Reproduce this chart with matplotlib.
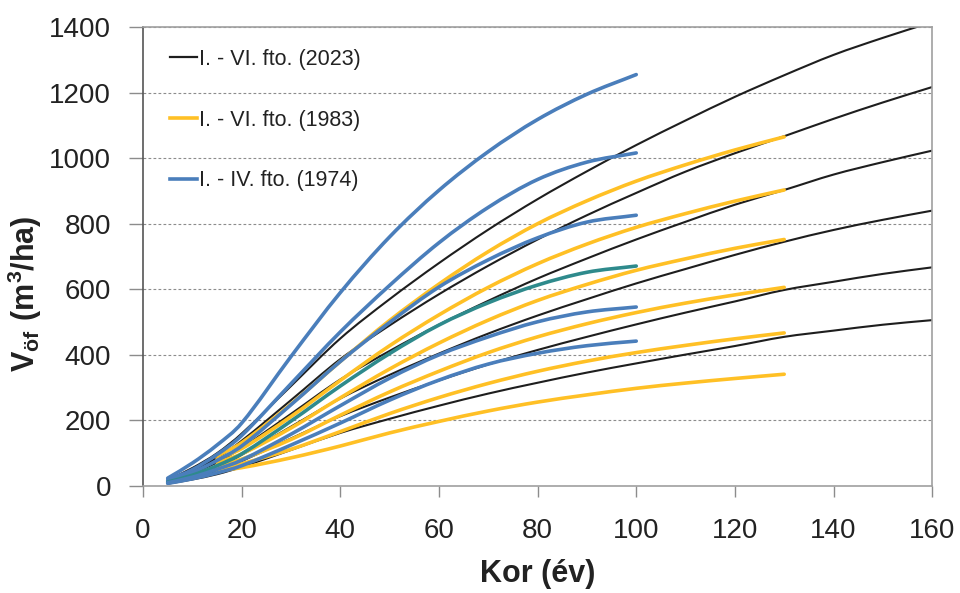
import matplotlib
matplotlib.use("Agg")
import matplotlib.pyplot as plt
from matplotlib.path import Path
from matplotlib.patches import PathPatch

# Yield curves
age_2023 = [5, 10, 15, 20, 30, 40, 50, 60, 70, 80, 90, 100, 110, 120, 130, 140, 150, 160]
vol_2023 = [
    [18, 55, 100, 160, 305, 450, 570, 680, 782, 875, 960, 1040, 1115, 1187, 1253, 1315, 1367, 1415],
    [15, 47, 86, 138, 262, 387, 490, 585, 672, 752, 826, 894, 959, 1015, 1067, 1120, 1170, 1217],
    [13, 40, 72, 116, 220, 325, 412, 492, 565, 633, 694, 752, 806, 858, 903, 950, 988, 1023],
    [11, 33, 59, 95, 181, 267, 339, 404, 465, 520, 570, 618, 662, 705, 745, 781, 812, 840],
    [9, 26, 47, 76, 145, 213, 270, 322, 371, 415, 455, 493, 529, 563, 598, 623, 647, 667],
    [7, 20, 36, 58, 110, 162, 205, 245, 282, 315, 346, 374, 401, 427, 455, 474, 492, 506],
]

age_1983 = [15, 20, 30, 40, 50, 60, 70, 80, 90, 100, 110, 120, 130]
vol_1983 = [
    [92, 132, 250, 380, 505, 616, 715, 800, 870, 930, 980, 1025, 1065],
    [82, 114, 212, 322, 428, 522, 606, 678, 738, 789, 831, 869, 903],
    [72, 98, 177, 269, 357, 436, 506, 566, 615, 658, 693, 725, 752],
    [62, 82, 142, 216, 287, 350, 407, 455, 495, 529, 558, 583, 606],
    [52, 68, 112, 166, 221, 270, 313, 350, 381, 407, 429, 449, 467],
    [46, 56, 86, 122, 162, 197, 229, 256, 278, 298, 314, 328, 341],
]

age_1974 = [5, 10, 15, 20, 30, 40, 50, 60, 70, 80, 90, 100]
vol_1974 = [
    [24, 70, 125, 192, 395, 590, 760, 902, 1020, 1118, 1195, 1255],
    [18, 50, 96, 154, 312, 470, 612, 742, 850, 935, 988, 1016],
    [15, 41, 78, 122, 248, 380, 499, 607, 690, 757, 805, 826],
    [12, 33, 62, 98, 198, 305, 404, 491, 559, 613, 652, 671],
    [10, 27, 51, 79, 158, 245, 329, 400, 455, 501, 531, 546],
    [8, 22, 40, 62, 125, 192, 262, 323, 372, 405, 428, 442],
]
colors_1974 = ["#4A7EBB", "#4A7EBB", "#4A7EBB", "#2E8A8C", "#4A7EBB", "#4A7EBB"]

labels = ["I. - VI. fto. (2023)", "I. - VI. fto. (1983)", "I. - IV. fto. (1974)"]
c_black, c_yellow, c_blue = "#1E1E1E", "#FFC025", "#4A7EBB"


def smooth_line(ax, xs, ys, color, lw):
    # smoothed line like in Excel: cubic Bezier segments through the read points,
    # tangents from neighbouring points, scaled to each segment's width
    n = len(xs)
    slopes = []
    for i in range(n):
        a = max(i - 1, 0)
        b = min(i + 1, n - 1)
        slopes.append((ys[b] - ys[a]) / (xs[b] - xs[a]))
    verts = [(xs[0], ys[0])]
    codes = [Path.MOVETO]
    for i in range(n - 1):
        h = (xs[i + 1] - xs[i]) / 3
        verts += [(xs[i] + h, ys[i] + slopes[i] * h),
                  (xs[i + 1] - h, ys[i + 1] - slopes[i + 1] * h),
                  (xs[i + 1], ys[i + 1])]
        codes += [Path.CURVE4] * 3
    patch = PathPatch(Path(verts, codes), facecolor="none", edgecolor=color, lw=lw,
                      capstyle="round", joinstyle="round", transform=ax.transData)
    ax.add_patch(patch)


plt.rcParams["font.family"] = ["Liberation Sans", "DejaVu Sans"]
plt.rcParams["mathtext.fontset"] = "custom"
plt.rcParams["mathtext.rm"] = "Liberation Sans"
plt.rcParams["mathtext.bf"] = "Liberation Sans:bold"

fig = plt.figure(figsize=(9.6, 5.93), dpi=100)
ax = fig.add_axes([0.149, 0.1804, 0.822, 0.774])

for v in vol_2023:
    smooth_line(ax, age_2023, v, c_black, 1.5)
for v in vol_1983:
    smooth_line(ax, age_1983, v, c_yellow, 2.6)
for v, c in zip(vol_1974, colors_1974):
    smooth_line(ax, age_1974, v, c, 2.6)

# legend handles
h1, = ax.plot([], [], color=c_black, lw=1.6)
h2, = ax.plot([], [], color=c_yellow, lw=2.6)
h3, = ax.plot([], [], color=c_blue, lw=2.6)
ax.legend([h1, h2, h3], labels, loc="upper left", bbox_to_anchor=(0.01, 0.995), frameon=False,
          fontsize=15.5, handlelength=1.25, handletextpad=0.1, labelspacing=1.85, labelcolor="#222222")

ax.set_xlim(0, 160)
ax.set_ylim(0, 1400)
ax.set_xticks(range(0, 161, 20))
ax.set_yticks(range(0, 1401, 200))
ax.yaxis.grid(True, linestyle=(0, (2.5, 2)), color="#8C8C8C", lw=0.8)
ax.set_axisbelow(True)

ax.tick_params(axis="both", labelsize=20, colors="#222222")
ax.tick_params(axis="y", direction="out", length=10, width=1, color="#8C8C8C", pad=13)
ax.tick_params(axis="x", direction="out", length=8, width=1, color="#8C8C8C", pad=15)

for s in ["top", "right", "bottom"]:
    ax.spines[s].set_color("#A0A0A0")
    ax.spines[s].set_linewidth(1.2)
ax.spines["left"].set_color("#555555")
ax.spines["left"].set_linewidth(1.2)

ax.set_xlabel("Kor (év)", fontsize=22, fontweight="bold", labelpad=11, color="#222222")
ax.set_ylabel(r"$\mathbf{V_{öf}\ (m^3/ha)}$", fontsize=22, color="#222222")
ax.yaxis.set_label_coords(-0.126, 0.42)

fig.savefig("out.png", dpi=100)
